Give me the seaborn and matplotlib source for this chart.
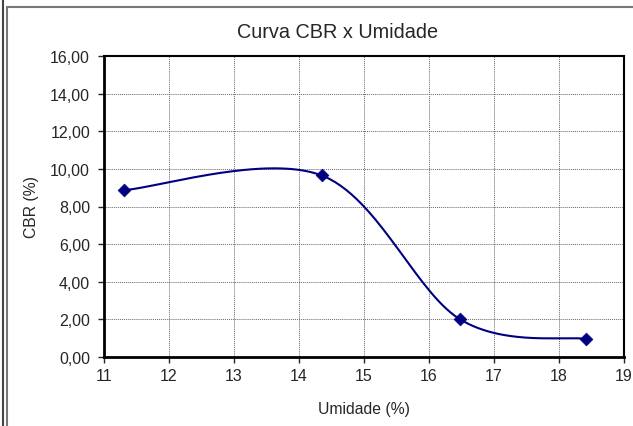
import matplotlib
matplotlib.use("Agg")
import matplotlib.pyplot as plt
import numpy as np
import pandas as pd
import seaborn as sns

# data
umidade = [11.31, 14.35, 16.47, 18.41]
cbr = [8.87, 9.65, 2.02, 0.96]
x_ticks = [11, 12, 13, 14, 15, 16, 17, 18, 19]
y_ticks = [0, 2, 4, 6, 8, 10, 12, 14, 16]


def excel_smooth(xs, ys, n=60):
    # Excel-style smoothed line: cubic bezier, control points from neighbours / 6
    pts = np.column_stack([xs, ys]).astype(float)
    pad = np.vstack([pts[0], pts, pts[-1]])
    out = []
    for i in range(1, len(pad) - 2):
        p0, p1, p2, p3 = pad[i - 1], pad[i], pad[i + 1], pad[i + 2]
        c1 = p1 + (p2 - p0) / 6.0
        c2 = p2 - (p3 - p1) / 6.0
        t = np.linspace(0, 1, n)[:, None]
        seg = ((1 - t) ** 3) * p1 + 3 * ((1 - t) ** 2) * t * c1 \
            + 3 * (1 - t) * t ** 2 * c2 + t ** 3 * p2
        out.append(seg if i == 1 else seg[1:])
    return np.vstack(out)


sns.set_style("white")
plt.rcParams["font.family"] = ["Liberation Sans", "DejaVu Sans"]

fig = plt.figure(figsize=(6.33, 4.27), dpi=100)
ax = fig.add_axes([104 / 633, 1 - 358 / 427, 520 / 633, 301 / 427])

df = pd.DataFrame({"umidade": umidade, "cbr": cbr})
curve = excel_smooth(umidade, cbr)
curve_df = pd.DataFrame({"x": curve[:, 0], "y": curve[:, 1]})

sns.lineplot(data=curve_df, x="x", y="y", sort=False, ax=ax,
             color="#000080", lw=1.5, zorder=3)
sns.scatterplot(data=df, x="umidade", y="cbr", ax=ax, marker="D", s=42,
                color="#000080", edgecolor="#000080", zorder=4)

ax.set_xlim(11, 19)
ax.set_ylim(0, 16)
ax.set_xticks(x_ticks)
ax.set_yticks(y_ticks)
ax.set_yticklabels([f"{v:.2f}".replace(".", ",") for v in y_ticks])
ax.grid(True, color="#666666", linestyle=(0, (1, 1)), lw=0.7)
ax.set_axisbelow(True)
ax.tick_params(axis="y", direction="out", length=4, width=1, labelsize=11.5,
               left=True, pad=6)
ax.tick_params(axis="x", direction="out", length=4, width=1, labelsize=11.5,
               bottom=True, pad=4)

for side, sp in ax.spines.items():
    sp.set_visible(True)
    sp.set_color("black")
    sp.set_linewidth(2 if side in ("left", "bottom") else 1.5)

ax.set_xlabel("Umidade (%)", fontsize=11.3, labelpad=13)
ax.set_ylabel("CBR (%)", fontsize=11.3, labelpad=8)
fig.text(338 / 633, 1 - 32 / 427, "Curva CBR x Umidade", fontsize=14.3,
         ha="center", va="center")

# chart-area borders like the Excel screenshot
fig.add_artist(plt.Line2D([2.5 / 633, 2.5 / 633], [0, 1], color="#444444", lw=1.5))
fig.add_artist(plt.Line2D([7.5 / 633, 7.5 / 633], [0, 1 - 8 / 427], color="#777777", lw=1.5))
fig.add_artist(plt.Line2D([7.5 / 633, 1], [1 - 8 / 427, 1 - 8 / 427], color="#777777", lw=1.5))

fig.savefig("out.png", dpi=100)
